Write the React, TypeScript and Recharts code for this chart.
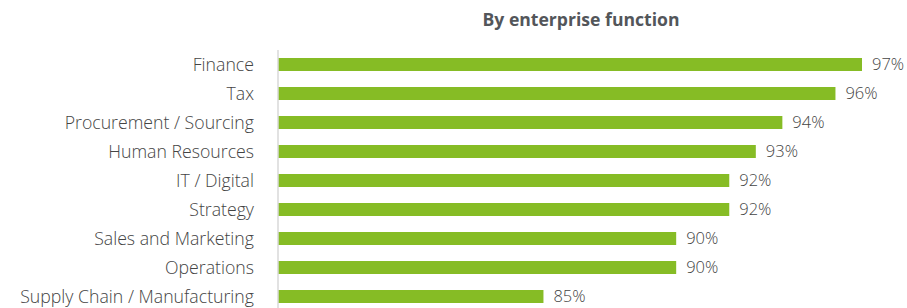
import { BarChart, Bar, XAxis, YAxis, LabelList } from 'recharts'

const functions = [
  'Finance',
  'Tax',
  'Procurement / Sourcing',
  'Human Resources',
  'IT / Digital',
  'Strategy',
  'Sales and Marketing',
  'Operations',
  'Supply Chain / Manufacturing',
]
const shares = [97, 96, 94, 93, 92, 92, 90, 90, 85]

const data = functions.map((name, i) => ({ name, value: shares[i] }))

const font = '"Open Sans", "Noto Sans", sans-serif'

const App = (): JSX.Element => {
  return (
    <div style={{ position: 'absolute', left: 0, top: 0, width: 907, height: 308, overflow: 'hidden', fontFamily: font }}>
      <div
        style={{
          position: 'absolute',
          left: 431,
          top: 7,
          width: 300,
          textAlign: 'center',
          fontWeight: 700,
          fontSize: 17.6,
          color: '#53565a',
          whiteSpace: 'nowrap',
        }}
      >
        By enterprise function
      </div>
      <BarChart
        width={907}
        height={320}
        data={data}
        layout="vertical"
        barSize={13}
        margin={{ top: 50, right: 45, bottom: 9, left: 0 }}
      >
        <XAxis type="number" domain={[75, 97]} hide allowDataOverflow />
        <YAxis
          type="category"
          dataKey="name"
          width={278}
          tickLine={false}
          tickSize={0}
          tickMargin={24}
          axisLine={{ stroke: '#d9d9d9', strokeWidth: 1.5 }}
          tick={{ fill: '#444', fontSize: 17.7, fontWeight: 300, fontFamily: font }}
          interval={0}
        />
        <Bar dataKey="value" fill="#86bc25" isAnimationActive={false}>
          <LabelList
            dataKey="value"
            position="right"
            offset={10}
            formatter={(v: any) => `${v}%`}
            style={{ fill: '#444', fontSize: 16.5, fontWeight: 300, fontFamily: font }}
          />
        </Bar>
      </BarChart>
    </div>
  )
}

export default App
